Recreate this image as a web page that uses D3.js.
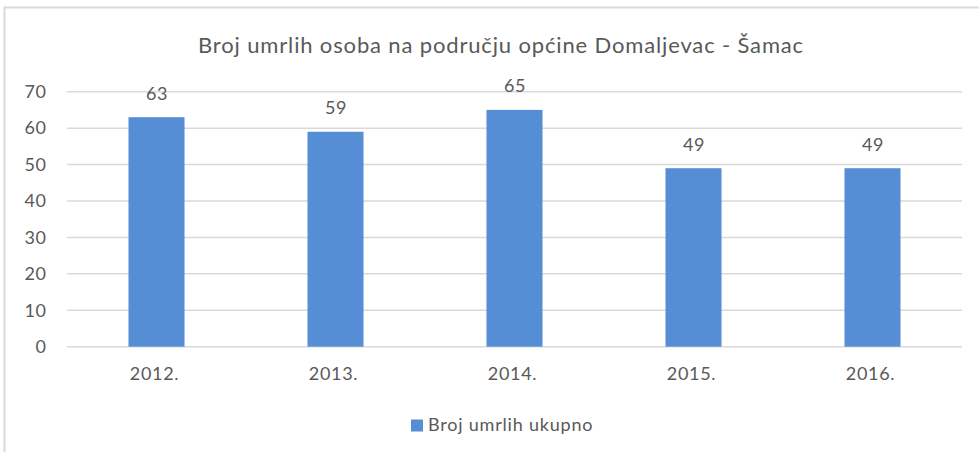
<!DOCTYPE html>
<html>
<head>
<meta charset="utf-8">
<script src="https://cdn.jsdelivr.net/npm/d3@7"></script>
<style>
  html, body { margin: 0; padding: 0; background: #fff; }
  svg { display: block; }
  text { font-family: Lato, "Open Sans", sans-serif; fill: #595959; }
</style>
</head>
<body>
<svg id="chart" width="979" height="452"></svg>
<script>
const categories = ["2012.", "2013.", "2014.", "2015.", "2016."];
const values = [63, 59, 65, 49, 49];
const yTicks = [0, 10, 20, 30, 40, 50, 60, 70];
const titleText = "Broj umrlih osoba na području općine Domaljevac - Šamac";
const seriesName = "Broj umrlih ukupno";

const svg = d3.select("#chart");
const W = 979, H = 452;
const FONT = "Lato, 'Open Sans', sans-serif";

// frame
svg.append("path")
  .attr("d", `M4.5,${H + 5} L4.5,7.5 L${W + 5},7.5`)
  .attr("fill", "none").attr("stroke", "#d9d9d9").attr("stroke-width", 2);

const x = d3.scaleBand().domain(categories).range([67, 962]).padding(0);
const y = d3.scaleLinear().domain([0, 70]).range([346.7, 91.7]);
const barW = x.bandwidth() * 0.313;

// gridlines
svg.append("g").selectAll("line").data(yTicks).join("line")
  .attr("x1", 67).attr("x2", 962)
  .attr("y1", d => y(d)).attr("y2", d => y(d))
  .attr("stroke", "#d9d9d9").attr("stroke-width", 1.5);

// y axis labels
const yAxis = d3.axisLeft(y).tickValues(yTicks).tickSize(0).tickPadding(0);
const gy = svg.append("g").attr("transform", "translate(46.5,0)").call(yAxis);
gy.select(".domain").remove();
gy.selectAll("text").attr("font-size", 18).attr("fill", "#595959")
  .style("font-family", FONT).style("letter-spacing", "0.6px");

// x axis labels
const xAxis = d3.axisBottom(x).tickSize(0).tickPadding(0);
const gx = svg.append("g").attr("transform", "translate(-2,367)").call(xAxis);
gx.select(".domain").remove();
gx.selectAll("text").attr("font-size", 18).attr("fill", "#595959").attr("dy", "0.71em")
  .style("font-family", FONT).style("letter-spacing", "0.7px");

// bars
svg.append("g").selectAll("rect").data(values).join("rect")
  .attr("x", (d, i) => x(categories[i]) + x.bandwidth() / 2 - barW / 2)
  .attr("width", barW)
  .attr("y", d => y(d))
  .attr("height", d => y(0) - y(d))
  .attr("fill", "#558ed5");

// data labels
svg.append("g").selectAll("text").data(values).join("text")
  .attr("x", (d, i) => x(categories[i]) + x.bandwidth() / 2 + 0.5)
  .attr("y", d => y(d) - 17.5)
  .attr("text-anchor", "middle")
  .attr("font-size", 18)
  .style("letter-spacing", "0.6px")
  .text(d => d);

// title
svg.append("text")
  .attr("x", 501).attr("y", 52.5)
  .attr("text-anchor", "middle")
  .attr("font-size", 22)
  .style("letter-spacing", "0.85px")
  .text(titleText);

// legend
const lg = svg.append("g");
lg.append("rect").attr("x", 411).attr("y", 419.5).attr("width", 12).attr("height", 12).attr("fill", "#558ed5");
lg.append("text").attr("x", 428).attr("y", 431).attr("font-size", 18)
  .style("letter-spacing", "0.8px").text(seriesName);
</script>
</body>
</html>
